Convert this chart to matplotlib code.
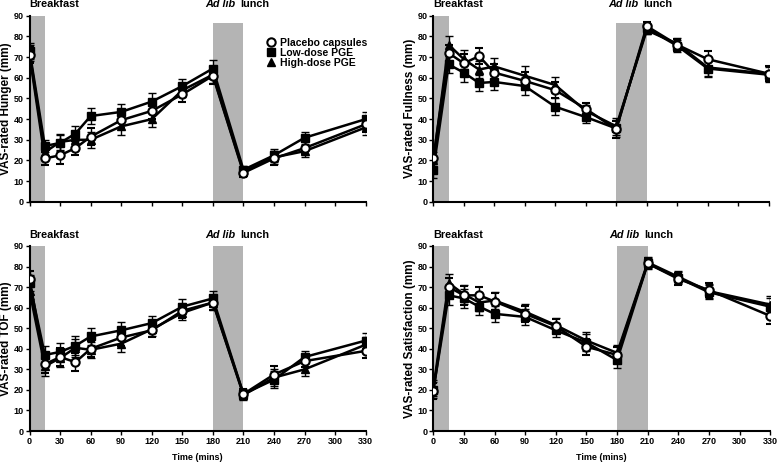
import numpy as np
import matplotlib.pyplot as plt

plt.rcParams['font.family'] = ['Liberation Sans', 'DejaVu Sans']
plt.rcParams['font.weight'] = 'bold'

# sampling times (mins)
times = [0, 15, 30, 45, 60, 90, 120, 150, 180, 210, 240, 270, 330]
xticks = [0, 30, 60, 90, 120, 150, 180, 210, 240, 270, 300, 330]
groups = ["Placebo capsules", "Low-dose PGE", "High-dose PGE"]

# VAS hunger
hunger_placebo = [71, 21, 22.5, 26, 31.5, 39.5, 44, 52, 61, 14, 21, 26, 37.5]
hunger_low = [73, 27, 28.5, 33, 41.5, 43.5, 48.5, 56, 64.5, 15.5, 22.5, 31, 40]
hunger_high = [72, 24, 29, 30, 30, 36.5, 40, 54, 61.5, 14.5, 21.5, 24.5, 36]
hunger_err = [4, 3, 4, 3.5, 4, 4, 4, 3.5, 4, 2, 3, 3, 3.5]

# VAS fullness
full_placebo = [21, 72, 67, 70.5, 62.5, 58.5, 54, 45, 35, 85, 76, 69, 62]
full_low = [15.5, 66.5, 62.5, 57.5, 58, 56, 46, 41, 35.5, 84, 75.5, 64.5, 61.5]
full_high = [20, 76, 69, 64, 65.5, 61, 56.5, 44, 36.5, 83, 76.5, 65, 62]
full_err = [4, 4, 4.5, 4, 4, 4.5, 4, 3, 4, 2, 3, 4, 3.5]

# VAS TOF
tof_placebo = [74, 32.5, 36, 33.5, 40, 45.5, 49, 58.5, 62.5, 18, 27.5, 34, 39]
tof_low = [72, 37, 38.5, 41.5, 46, 49, 52.5, 60.5, 64.5, 18, 25, 36, 44]
tof_high = [68, 31.5, 35.5, 40.5, 39.5, 42.5, 49.5, 57.5, 62.5, 17.5, 26, 30, 42]
tof_err = [4, 4.5, 4.5, 4.5, 4, 4, 3.5, 3.5, 3.5, 2.5, 4, 3, 3.5]

# VAS satisfaction
sat_placebo = [19.5, 70, 66, 66, 63, 57, 51, 41, 37, 81.5, 74, 68.5, 56]
sat_low = [20, 66, 64.5, 60.5, 57, 55.5, 49, 43, 34.5, 81.5, 74.5, 67.5, 60.5]
sat_high = [21, 72, 66.5, 62.5, 63.5, 58, 51.5, 44, 38, 82, 75, 68, 61.5]
sat_err = [4, 4.5, 4.5, 4, 4, 4, 3.5, 4, 4, 2.5, 3, 3.5, 4]

panels = [
    ("VAS-rated Hunger (mm)", hunger_placebo, hunger_low, hunger_high, hunger_err, 86.3),
    ("VAS-rated Fullness (mm)", full_placebo, full_low, full_high, full_err, 86.3),
    ("VAS-rated TOF (mm)", tof_placebo, tof_low, tof_high, tof_err, 90),
    ("VAS-rated Satisfaction (mm)", sat_placebo, sat_low, sat_high, sat_err, 90),
]

fig = plt.figure(figsize=(7.78, 4.65), dpi=100)
boxes = [
    [0.038, 0.566, 0.432, 0.400],
    [0.557, 0.566, 0.431, 0.400],
    [0.038, 0.073, 0.432, 0.398],
    [0.557, 0.073, 0.433, 0.398],
]

styles = [
    dict(marker='o', mfc='white', mec='black', ms=6, mew=1.5),
    dict(marker='s', mfc='black', mec='black', ms=6),
    dict(marker='^', mfc='black', mec='black', ms=6),
]

for i, (ylab, pl, lo, hi, err, lunch_top) in enumerate(panels):
    ax = fig.add_axes(boxes[i])
    ax.axvspan(0, 15, ymin=0, ymax=1, color='#b4b4b4', lw=0, zorder=0)
    ax.axvspan(180, 210, ymin=0, ymax=lunch_top / 90, color='#b4b4b4', lw=0, zorder=0)

    handles = []
    series = [pl, lo, hi]
    for k in [2, 1, 0]:
        h = ax.errorbar(times, series[k], yerr=err, color='black', lw=1.8,
                        elinewidth=1, capsize=3, capthick=1, zorder=3 + (2 - k),
                        label=groups[k], **styles[k])
        handles.append((k, h))

    ax.set_xlim(0, 330)
    ax.set_ylim(0, 90)
    ax.set_yticks(range(0, 91, 10))
    ax.set_xticks(xticks)
    for s in ['top', 'right']:
        ax.spines[s].set_visible(False)
    for s in ['left', 'bottom']:
        ax.spines[s].set_linewidth(1.5)
    ax.tick_params(direction='out', length=3, width=1, labelsize=6.5, pad=1)
    for t in ax.get_yticklabels() + ax.get_xticklabels():
        t.set_fontweight('bold')
    ax.set_ylabel(ylab, fontsize=8.5, fontweight='bold', labelpad=1)

    if i < 2:
        ax.set_xticklabels([])
    else:
        ax.set_xlabel("Time (mins)", fontsize=6.5, fontweight='bold', labelpad=5)

    ax.text(0, 1.035, "Breakfast", transform=ax.get_xaxis_transform(),
            fontsize=7.8, fontweight='bold', ha='left', va='bottom')
    ax.text(172, 1.035, "Ad lib", transform=ax.get_xaxis_transform(),
            fontsize=7.8, fontweight='bold', style='italic', ha='left', va='bottom')
    ax.text(207, 1.035, "lunch", transform=ax.get_xaxis_transform(),
            fontsize=7.8, fontweight='bold', ha='left', va='bottom')

    if i == 0:
        hs = [h for k, h in sorted(handles)]
        leg = ax.legend([h[0] for h in hs], groups, loc='upper left',
                        bbox_to_anchor=(0.69, 0.91), frameon=False, fontsize=7.5,
                        handlelength=0.8, handletextpad=0.5, labelspacing=0.0,
                        borderpad=0)
        for t in leg.get_texts():
            t.set_fontweight('bold')
        for lh in leg.legend_handles:
            lh.set_markersize(6)
            lh.set_linestyle('none')

fig.savefig("out.png", dpi=100)
